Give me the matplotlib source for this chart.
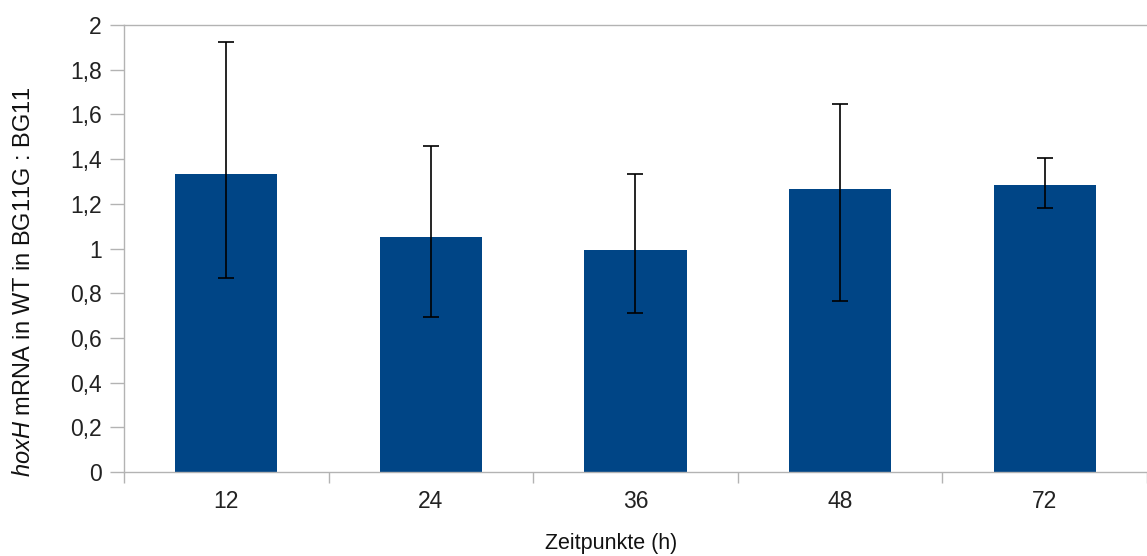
import matplotlib
matplotlib.use("Agg")
import matplotlib.pyplot as plt
import numpy as np

categories = ["12", "24", "36", "48", "72"]
values = [1.333, 1.051, 0.993, 1.266, 1.284]
err_upper = [0.592, 0.408, 0.340, 0.381, 0.121]
err_lower = [0.465, 0.357, 0.282, 0.501, 0.103]
yticks = [0, 0.2, 0.4, 0.6, 0.8, 1.0, 1.2, 1.4, 1.6, 1.8, 2.0]
ytick_labels = ["0", "0,2", "0,4", "0,6", "0,8", "1", "1,2", "1,4", "1,6", "1,8", "2"]

plt.rcParams['font.family'] = ['Liberation Sans', 'DejaVu Sans']
plt.rcParams['mathtext.fontset'] = 'custom'
plt.rcParams['mathtext.it'] = 'Liberation Sans:italic'
plt.rcParams['mathtext.rm'] = 'Liberation Sans'

fig = plt.figure(figsize=(11.47, 5.56), dpi=100)
ax = fig.add_axes([0.1081, 0.1511, 0.8919, 0.8039])

x = np.arange(len(categories))
ax.bar(x, values, width=0.5, color="#004586", zorder=2)
ax.errorbar(x, values, yerr=[err_lower, err_upper], fmt="none", ecolor="black",
            elinewidth=1.2, capsize=5.5, capthick=1.2, zorder=3)

ax.set_xlim(-0.5, len(categories) - 0.5)
ax.set_ylim(0, 2)
ax.set_yticks(yticks)
ax.set_yticklabels(ytick_labels)
ax.set_xticks(x)
ax.set_xticklabels(categories)
ax.set_xticks(np.arange(len(categories) + 1) - 0.5, minor=True)

gray = "#b3b3b3"
ax.spines["right"].set_visible(False)
for s in ["left", "bottom", "top"]:
    ax.spines[s].set_color(gray)
    ax.spines[s].set_linewidth(1.0)

ax.tick_params(axis="y", which="major", length=10, width=1, color=gray,
               labelsize=16.5, labelcolor="#222222", pad=6)
ax.tick_params(axis="x", which="major", length=0, labelsize=16.5,
               labelcolor="#222222", pad=13)
ax.tick_params(axis="x", which="minor", length=8, width=1, color=gray)

ax.set_ylabel(r"$\it{hoxH}$ mRNA in WT in BG11G : BG11", fontsize=17,
              color="#111111")
ax.yaxis.set_label_coords(-0.087, 0.425)
ax.set_xlabel("Zeitpunkte (h)", fontsize=15.5, color="#111111")
ax.xaxis.set_label_coords(0.476, -0.137)

fig.savefig("out.png", dpi=100)
